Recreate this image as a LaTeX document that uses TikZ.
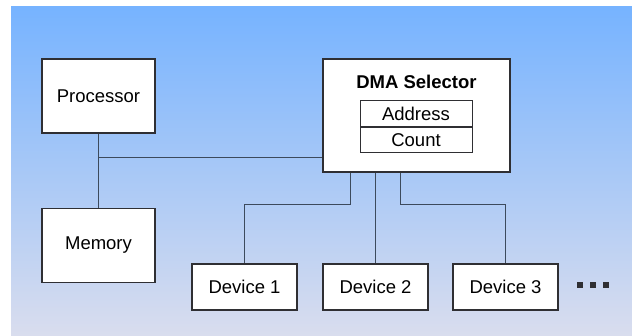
\documentclass[tikz,border=0pt]{standalone}
\usepackage{fontspec}
\setmainfont{Liberation Sans}
\usetikzlibrary{positioning,calc}
\definecolor{skytop}{HTML}{76B3FF}
\definecolor{skybot}{HTML}{D9DDEE}
\definecolor{edge}{HTML}{2F2F33}
\definecolor{wire}{HTML}{3C4A5C}
\tikzset{
  box/.style={draw=edge,fill=white,line width=1.1pt,inner sep=0pt,align=center,font=\fontsize{18.5}{22}\selectfont},
  unitbox/.style={box,minimum width=113pt,minimum height=74pt},
  devbox/.style={box,minimum width=105pt,minimum height=46pt},
  regbox/.style={box,line width=0.9pt,minimum width=112pt,minimum height=25.5pt},
  wire/.style={draw=wire,line width=1pt},
}
\begin{document}
\begin{tikzpicture}[x=1pt,y=-1pt]
    \useasboundingbox (0,0) rectangle (632,335);
    \fill[white] (0,0) rectangle (632,335);
    \shade[top color=skytop,bottom color=skybot] (11,6) rectangle (632,335);
    % processor side
    \node[unitbox] (proc) at (98.5,96) {Processor};
    \node[unitbox] (mem) at (98.5,245.5) {Memory};
    % dma selector with its registers
    \node[box,minimum width=187pt,minimum height=113pt] (dma) at (416.5,115.5) {};
    \node[font=\fontsize{18.5}{22}\selectfont\bfseries] (dmalbl) at (416.5,82) {DMA Selector};
    \node[regbox] (addr) at (416,113.5) {Address};
    \node[regbox,below=0pt of addr] (count) {Count};
    % devices
    \node[devbox] (dev1) at (244.5,287) {Device 1};
    \node[devbox] (dev2) at (375.5,287) {Device 2};
    \node[devbox] (dev3) at (505.5,287) {Device 3};
    \foreach \i in {0,1,2} {
      \fill[edge] (577+\i*13,282) rectangle ++(5.5,5.5);
    }
    % bus
    \coordinate (bus) at (proc.south |- 0,157);
    \draw[wire] (proc.south) -- (mem.north);
    \draw[wire] (bus) -- (bus -| dma.west);
    \coordinate (d1) at (350,0);
    \coordinate (d2) at (dev2.north);
    \coordinate (d3) at (400,0);
    \draw[wire] (d1 |- dma.south) -- (d1 |- 0,204) -| (dev1.north);
    \draw[wire] (d2 |- dma.south) -- (dev2.north);
    \draw[wire] (d3 |- dma.south) -- (d3 |- 0,204) -| (dev3.north);
\end{tikzpicture}
\end{document}
